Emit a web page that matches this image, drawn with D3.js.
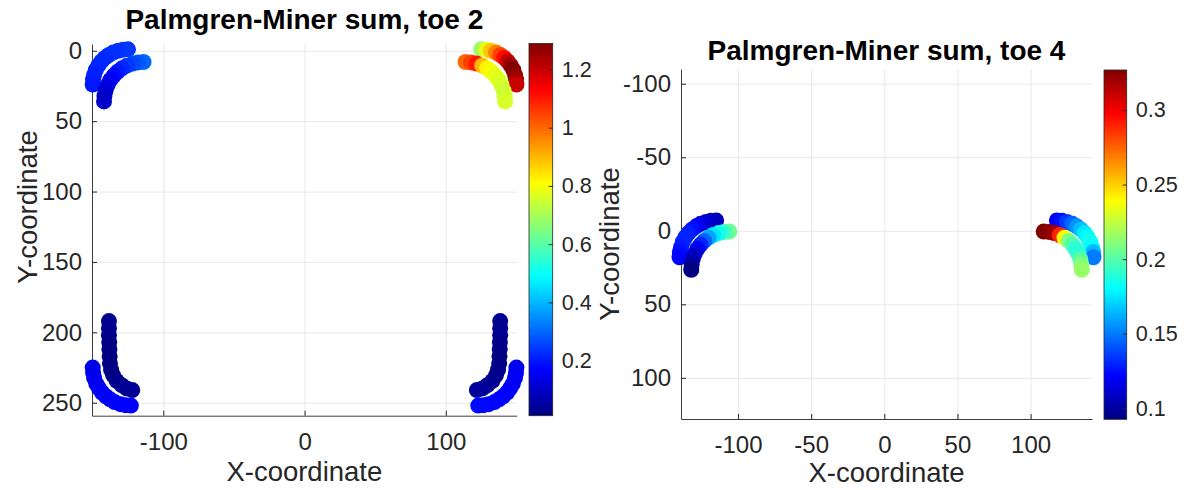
<!DOCTYPE html>
<html>
<head>
<meta charset="utf-8">
<script src="https://cdn.jsdelivr.net/npm/d3@7"></script>
<style>
  body { margin: 0; background: #fff; }
  svg { display: block; }
</style>
</head>
<body>
<svg width="1189" height="490"></svg>
<script>
// each arc is a list of [x, y, miner sum]

// toe 2
const toe2TopLeftOuter = [
  [-125, -1, 0.24], [-128.5, -0.8, 0.24], [-131.9, 0, 0.235], [-135.6, 1.3, 0.23],
  [-138.6, 3, 0.23], [-141.4, 5.1, 0.225], [-143.9, 7.6, 0.22], [-146, 10.4, 0.22],
  [-147.7, 13.4, 0.215], [-149, 17.1, 0.21], [-149.8, 20.5, 0.21], [-150, 24, 0.2]
];
const toe2TopLeftInner = [
  [-114, 8, 0.3], [-117.9, 8.3, 0.28], [-121.7, 9.1, 0.26], [-125.8, 10.6, 0.24],
  [-129.3, 12.5, 0.22], [-132.4, 14.9, 0.2], [-135.1, 17.6, 0.18], [-137.5, 20.7, 0.16],
  [-139.4, 24.2, 0.14], [-140.9, 28.3, 0.12], [-141.7, 32.1, 0.11], [-142, 36, 0.1]
];
const toe2TopRightOuter = [
  [125, -1, 0.68], [128.5, -0.8, 0.78], [131.9, 0, 0.88], [135.6, 1.3, 0.97],
  [138.6, 3, 1.05], [141.4, 5.1, 1.12], [143.9, 7.6, 1.2], [146, 10.4, 1.26],
  [147.7, 13.4, 1.289], [149, 17.1, 1.27], [149.8, 20.5, 1.24], [150, 24, 1.2]
];
const toe2TopRightInner = [
  [114, 8, 1.0], [117.9, 8.3, 1.05], [121.7, 9.1, 1.1], [125.8, 10.6, 0.9],
  [129.3, 12.5, 0.82], [132.4, 14.9, 0.8], [135.1, 17.6, 0.78], [137.5, 20.7, 0.77],
  [139.4, 24.2, 0.76], [140.9, 28.3, 0.75], [141.7, 32.1, 0.75], [142, 36, 0.76]
];
const toe2BottomLeftInner = [
  [-138.5, 192, 0.03], [-138.5, 197, 0.03], [-138.5, 202, 0.025], [-138.3, 207, 0.02],
  [-138.2, 212, 0.02], [-138, 217, 0.015], [-137.8, 222, 0.011], [-137, 226.5, 0.015],
  [-135.5, 230.5, 0.02], [-133, 234.5, 0.025], [-129.5, 237.5, 0.03], [-126, 239.8, 0.035],
  [-122, 241, 0.04]
];
const toe2BottomLeftOuter = [
  [-150, 225, 0.14], [-149.7, 228.8, 0.145], [-149, 232.4, 0.15], [-147.5, 236.4, 0.15],
  [-145.6, 239.7, 0.155], [-143.4, 242.7, 0.16], [-140.7, 245.4, 0.16], [-137.7, 247.6, 0.16],
  [-134.4, 249.5, 0.165], [-130.4, 251, 0.165], [-126.8, 251.7, 0.17], [-123, 252, 0.17]
];
const toe2BottomRightInner = [
  [138.5, 192, 0.035], [138.5, 197, 0.03], [138.5, 202, 0.03], [138.3, 207, 0.025],
  [138.2, 212, 0.02], [138, 217, 0.02], [137.8, 222, 0.015], [137, 226.5, 0.02],
  [135.5, 230.5, 0.025], [133, 234.5, 0.03], [129.5, 237.5, 0.035], [126, 239.8, 0.04],
  [122, 241, 0.045]
];
const toe2BottomRightOuter = [
  [150, 225, 0.15], [149.7, 228.8, 0.155], [149, 232.4, 0.16], [147.5, 236.4, 0.16],
  [145.6, 239.7, 0.165], [143.4, 242.7, 0.17], [140.7, 245.4, 0.17], [137.7, 247.6, 0.17],
  [134.4, 249.5, 0.175], [130.4, 251, 0.175], [126.8, 251.7, 0.18], [123, 252, 0.18]
];

// toe 4
const toe4LeftOuter = [
  [-115, -7, 0.105], [-118.5, -6.8, 0.108], [-121.9, -6, 0.11], [-125.6, -4.7, 0.115],
  [-128.6, -3, 0.12], [-131.4, -0.9, 0.125], [-133.9, 1.6, 0.128], [-136, 4.4, 0.13],
  [-137.7, 7.4, 0.13], [-139, 11.1, 0.128], [-139.8, 14.5, 0.125], [-140, 18, 0.122]
];
const toe4LeftInner = [
  [-106, 0.5, 0.205], [-109.6, 0.8, 0.195], [-113.2, 1.5, 0.185], [-117, 2.9, 0.175],
  [-120.2, 4.7, 0.16], [-123.1, 6.9, 0.145], [-125.6, 9.4, 0.13], [-127.8, 12.3, 0.12],
  [-129.6, 15.5, 0.112], [-131, 19.3, 0.105], [-131.7, 22.9, 0.1], [-132, 26.5, 0.0926]
];
const toe4RightOuter = [
  [118, -7, 0.12], [121.5, -6.8, 0.125], [124.9, -6, 0.135], [128.6, -4.7, 0.145],
  [131.6, -3, 0.155], [134.4, -0.9, 0.165], [136.9, 1.6, 0.175], [139, 4.4, 0.18],
  [140.7, 7.4, 0.185], [142, 11.1, 0.18], [142.8, 14.5, 0.165], [143, 18, 0.15]
];
const toe4RightInner = [
  [109, 0.5, 0.3268], [112.6, 0.8, 0.325], [116.2, 1.5, 0.32], [120, 2.9, 0.29],
  [123.2, 4.7, 0.24], [126.1, 6.9, 0.21], [128.6, 9.4, 0.2], [130.8, 12.3, 0.19],
  [132.6, 15.5, 0.19], [134, 19.3, 0.2], [134.7, 22.9, 0.21], [135, 26.5, 0.215]
];

// axes limits and ticks
const toe2XLim = [-150.5, 150.2];
const toe2YLim = [-4.8, 259.2];
const toe2XTicks = [-100, 0, 100];
const toe2YTicks = [0, 50, 100, 150, 200, 250];
const toe2CbTicks = [0.2, 0.4, 0.6, 0.8, 1, 1.2];

const toe4XLim = [-139, 142];
const toe4YLim = [-110, 128];
const toe4XTicks = [-100, -50, 0, 50, 100];
const toe4YTicks = [-100, -50, 0, 50, 100];
const toe4CbTicks = [0.1, 0.15, 0.2, 0.25, 0.3];

const FONT = '"Liberation Sans", Arial, Helvetica, sans-serif';
const INK = '#262626';
const svg = d3.select('svg');

// MATLAB style jet colormap
function jet(t) {
  const c = v => Math.max(0, Math.min(1, v));
  return d3.rgb(
    255 * c(1.5 - Math.abs(4 * t - 3)),
    255 * c(1.5 - Math.abs(4 * t - 2)),
    255 * c(1.5 - Math.abs(4 * t - 1))
  ).formatHex();
}

function styleAxis(sel, size) {
  sel.attr('font-family', FONT).attr('font-size', size).attr('color', INK);
  sel.selectAll('text').attr('fill', INK);
}

function drawPanel(p) {
  const x = d3.scaleLinear().domain(p.xLim).range([p.left, p.right]);
  const y = d3.scaleLinear().domain(p.yLim).range([p.top, p.bottom]);
  const all = p.arcs.flat();
  const color = d3.scaleSequential(jet).domain(d3.extent(all, d => d[2]));
  const g = svg.append('g');
  const h = p.bottom - p.top;
  const w = p.right - p.left;

  // grid
  g.append('g')
    .attr('transform', `translate(0,${p.bottom})`)
    .call(d3.axisBottom(x).tickValues(p.xTicks).tickSize(-h).tickFormat(''))
    .call(s => s.select('.domain').remove())
    .selectAll('line').attr('stroke', '#e2e2e2').attr('stroke-width', 0.8);
  g.append('g')
    .attr('transform', `translate(${p.left},0)`)
    .call(d3.axisLeft(y).tickValues(p.yTicks).tickSize(-w).tickFormat(''))
    .call(s => s.select('.domain').remove())
    .selectAll('line').attr('stroke', '#e2e2e2').attr('stroke-width', 0.8);

  // axes
  const xAxis = g.append('g')
    .attr('transform', `translate(0,${p.bottom})`)
    .call(d3.axisBottom(x).tickValues(p.xTicks).tickSizeInner(-5).tickSizeOuter(0)
      .tickPadding(17).tickFormat(d => String(d)));
  styleAxis(xAxis, 24);
  const yAxis = g.append('g')
    .attr('transform', `translate(${p.left},0)`)
    .call(d3.axisLeft(y).tickValues(p.yTicks).tickSizeInner(-5).tickSizeOuter(0)
      .tickPadding(10).tickFormat(d => String(d)));
  styleAxis(yAxis, 24);
  g.selectAll('.domain').attr('stroke-width', 0.9);

  // points
  p.arcs.forEach(arc => {
    g.append('g').selectAll('circle')
      .data(arc)
      .join('circle')
      .attr('cx', d => x(d[0]))
      .attr('cy', d => y(d[1]))
      .attr('r', p.r)
      .attr('fill', d => color(d[2]));
  });

  // colorbar
  const grad = svg.append('defs').append('linearGradient')
    .attr('id', p.id)
    .attr('x1', 0).attr('y1', 1).attr('x2', 0).attr('y2', 0);
  [0, 0.125, 0.375, 0.625, 0.875, 1].forEach(o => {
    grad.append('stop').attr('offset', o).attr('stop-color', jet(o));
  });
  const cb = d3.scaleLinear().domain(color.domain()).range([p.cbBottom, p.cbTop]);
  g.append('rect')
    .attr('x', p.cbLeft).attr('y', p.cbTop)
    .attr('width', p.cbRight - p.cbLeft).attr('height', p.cbBottom - p.cbTop)
    .attr('fill', `url(#${p.id})`)
    .attr('stroke', INK).attr('stroke-width', 0.8);
  const cbAxis = g.append('g')
    .attr('transform', `translate(${p.cbRight},0)`)
    .call(d3.axisRight(cb).tickValues(p.cbTicks).tickSizeInner(-4).tickSizeOuter(0)
      .tickPadding(9).tickFormat(d => String(d)))
    .call(s => s.select('.domain').remove());
  styleAxis(cbAxis, 21.6);

  // labels
  g.append('text')
    .attr('x', (p.left + p.right) / 2).attr('y', p.titleY)
    .attr('text-anchor', 'middle').attr('dominant-baseline', 'central')
    .attr('font-family', FONT).attr('font-size', 28).attr('font-weight', 'bold')
    .attr('fill', '#000')
    .text(p.title);
  g.append('text')
    .attr('x', (p.left + p.right) / 2).attr('y', p.xLabelY)
    .attr('text-anchor', 'middle').attr('dominant-baseline', 'central')
    .attr('font-family', FONT).attr('font-size', 27.5).attr('fill', INK)
    .text('X-coordinate');
  g.append('text')
    .attr('transform', `translate(${p.yLabelX},${p.yLabelY}) rotate(-90)`)
    .attr('text-anchor', 'middle').attr('dominant-baseline', 'central')
    .attr('font-family', FONT).attr('font-size', 27.5).attr('fill', INK)
    .text('Y-coordinate');
}

drawPanel({
  id: 'jet2', title: 'Palmgren-Miner sum, toe 2',
  left: 92, right: 516.7, top: 44, bottom: 415.7,
  cbLeft: 529, cbRight: 552.7, cbTop: 43.5, cbBottom: 415.7,
  titleY: 19, xLabelY: 471, yLabelX: 27, yLabelY: 207, r: 8,
  xLim: toe2XLim, yLim: toe2YLim, xTicks: toe2XTicks, yTicks: toe2YTicks, cbTicks: toe2CbTicks,
  arcs: [toe2TopLeftOuter, toe2TopLeftInner, toe2TopRightOuter, toe2TopRightInner,
    toe2BottomLeftInner, toe2BottomLeftOuter, toe2BottomRightInner, toe2BottomRightOuter]
});

drawPanel({
  id: 'jet4', title: 'Palmgren-Miner sum, toe 4',
  left: 681, right: 1092, top: 69, bottom: 419,
  cbLeft: 1104, cbRight: 1126.7, cbTop: 70, cbBottom: 419.3,
  titleY: 50, xLabelY: 472, yLabelX: 609, yLabelY: 244, r: 8,
  xLim: toe4XLim, yLim: toe4YLim, xTicks: toe4XTicks, yTicks: toe4YTicks, cbTicks: toe4CbTicks,
  arcs: [toe4LeftOuter, toe4LeftInner, toe4RightOuter, toe4RightInner]
});
</script>
</body>
</html>
